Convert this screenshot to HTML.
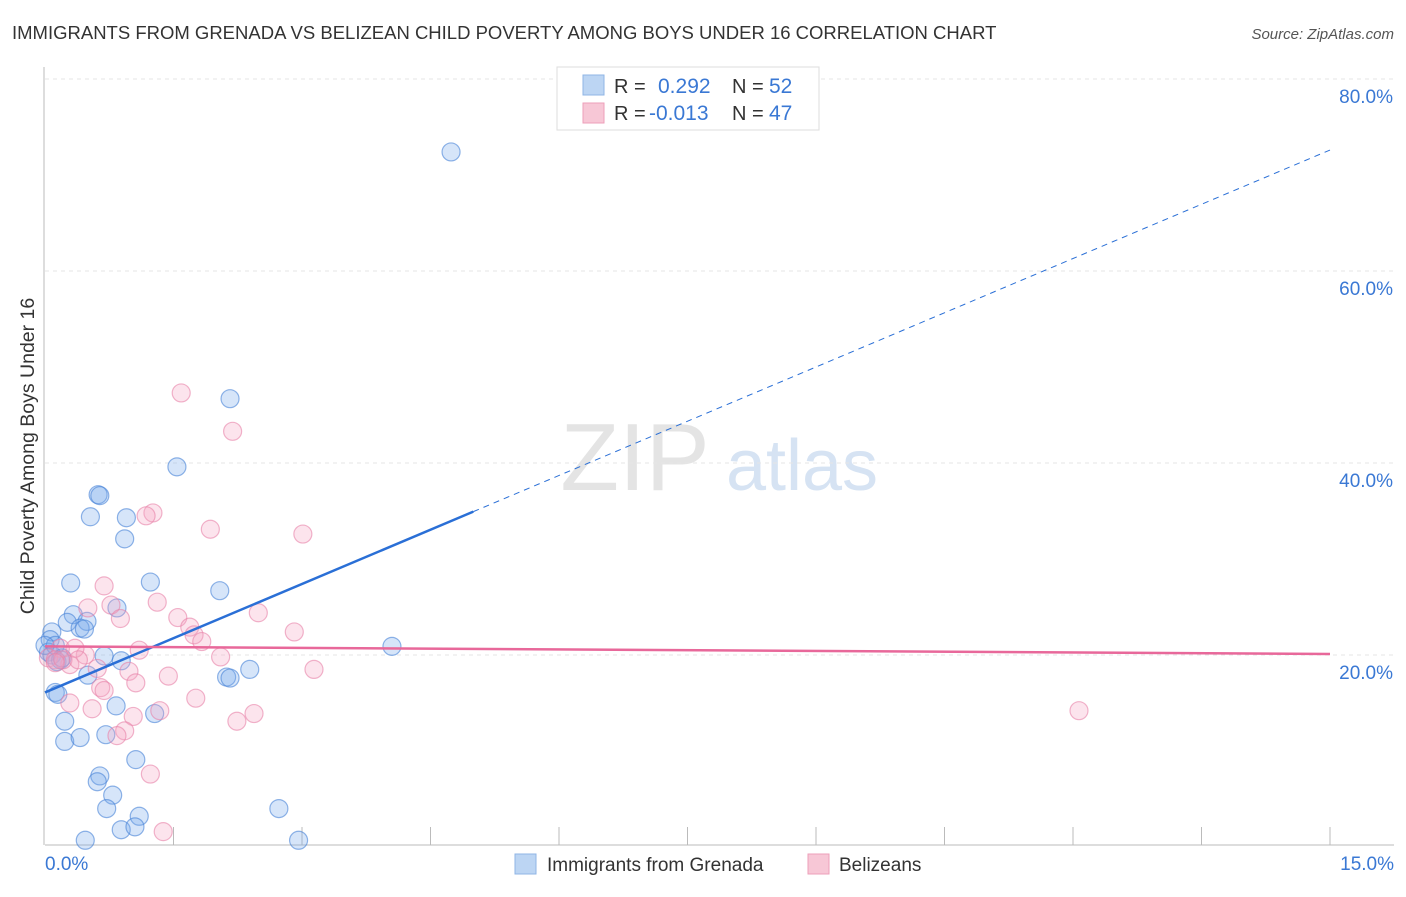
<!DOCTYPE html>
<html><head><meta charset="utf-8"><style>
body{margin:0;background:#fff;font-family:"Liberation Sans",sans-serif;}
svg text{font-family:"Liberation Sans",sans-serif;}
</style></head><body>
<svg id="chart" width="1406" height="892" xmlns="http://www.w3.org/2000/svg">
<text x="12" y="39" font-size="18.5" fill="#333">IMMIGRANTS FROM GRENADA VS BELIZEAN CHILD POVERTY AMONG BOYS UNDER 16 CORRELATION CHART</text>
<text x="1394" y="39" font-size="15" fill="#555" font-style="italic" text-anchor="end">Source: ZipAtlas.com</text>
<text transform="translate(34,456) rotate(-90)" font-size="19.5" fill="#333" text-anchor="middle">Child Poverty Among Boys Under 16</text>
<g>
<text x="635" y="490" font-size="96" fill="#e4e4e4" font-family="Liberation Serif" text-anchor="middle">ZIP</text>
<text x="802" y="490" font-size="72" fill="#d6e3f3" text-anchor="middle">atlas</text>
</g>
<g id="grid"></g><g id="axes"></g><g id="pts"></g><g id="lines"></g>
<g>
<rect x="557" y="67" width="262" height="63" fill="#fff" stroke="#ddd"/>
<rect x="583" y="75" width="21" height="20" fill="#bcd5f3" stroke="#8fb5e6"/>
<rect x="583" y="103" width="21" height="20" fill="#f7c7d6" stroke="#ee9fb9"/>
<text x="614" y="93" font-size="20" fill="#333">R =</text><text x="658" y="93" font-size="21" fill="#3a78d4">0.292</text>
<text x="732" y="93" font-size="20" fill="#333">N =</text><text x="769" y="93" font-size="21" fill="#3a78d4">52</text>
<text x="614" y="120" font-size="20" fill="#333">R =</text><text x="649" y="120" font-size="21" fill="#3a78d4">-0.013</text>
<text x="732" y="120" font-size="20" fill="#333">N =</text><text x="769" y="120" font-size="21" fill="#3a78d4">47</text>
</g>
<g>
<rect x="515" y="854" width="21" height="20" fill="#bcd5f3" stroke="#8fb5e6"/>
<text x="547" y="871" font-size="19" fill="#333">Immigrants from Grenada</text>
<rect x="808" y="854" width="21" height="20" fill="#f7c7d6" stroke="#ee9fb9"/>
<text x="839" y="871" font-size="19" fill="#333">Belizeans</text>
</g>
</svg>
<script>
const xTicks=[0,1.5,3,4.5,6,7.5,9,10.5,12,13.5,15];
const yTicks=[20,40,60,80];
const blueX=[4.74,2.16,1.54,0.62,0.64,0.53,0.95,0.93,0.30,1.23,2.04,0.84,0.33,0.26,0.49,0.41,0.46,0.08,0.06,0.04,0.08,0.14,0.69,0.89,0.18,4.05,2.39,2.12,2.16,0.50,0.12,0.15,0.83,1.28,0.23,0.23,0.41,0.71,1.06,0.64,0.61,0.79,0.72,1.10,2.73,0.89,1.05,0.47,2.96,0.12,0.0,0.20];
const blueY=[72.4,46.7,39.6,36.7,36.6,34.4,34.3,32.1,27.5,27.6,26.7,24.9,24.2,23.4,23.5,22.8,22.7,22.4,21.6,20.3,20.0,19.3,19.9,19.4,19.5,20.9,18.5,17.7,17.6,17.9,16.1,15.9,14.7,13.9,13.1,11.0,11.4,11.7,9.1,7.4,6.8,5.4,4.0,3.2,4.0,1.8,2.1,0.7,0.7,21.0,21.0,19.7];
const pinkX=[1.59,2.19,1.26,1.18,1.93,3.01,0.69,1.31,0.50,0.77,0.88,1.55,2.49,2.91,1.69,1.74,1.83,1.10,2.05,0.18,0.04,0.29,0.12,0.21,0.47,0.61,0.98,3.14,1.44,0.65,1.06,0.69,1.76,0.29,0.55,1.34,1.03,2.24,2.44,0.93,0.84,1.23,1.38,12.07,0.35,0.12,0.39];
const pinkY=[47.3,43.3,34.8,34.5,33.1,32.6,27.2,25.5,24.9,25.2,23.8,23.9,24.4,22.4,22.9,22.1,21.4,20.5,19.8,20.7,19.7,19.0,19.5,19.5,20.0,18.6,18.3,18.5,17.8,16.6,17.1,16.3,15.5,15.0,14.4,14.2,13.6,13.1,13.9,12.1,11.6,7.6,1.6,14.2,20.7,19.2,19.5];
const blueLine=[16.1,72.6]; const blueSolidEnd=5.0;
const pinkLine=[20.9,20.1];
const X=v=>45+v/15*1285, Y=v=>847-v*9.6;
const NS="http://www.w3.org/2000/svg";
function mk(parent,tag,attrs){const e=document.createElementNS(NS,tag);for(const k in attrs)e.setAttribute(k,attrs[k]);document.getElementById(parent).appendChild(e);return e;}
yTicks.forEach(t=>{
 const g=mk('grid','line',{x1:45,x2:1394,y1:Y(t),y2:Y(t),stroke:'#e6e6e6','stroke-dasharray':'4,4'});
 
 
 const l=mk('axes','text',{x:1393,y:Y(t)+24,'font-size':19,fill:'#3a78d4','text-anchor':'end'});
 l.textContent=t.toFixed(1)+'%';
 
 
});
const ax=mk('axes','line',{x1:45,x2:1394,y1:845,y2:845,stroke:'#bbb'});


const ay=mk('axes','line',{x1:44,x2:44,y1:67,y2:845,stroke:'#bbb'});


xTicks.forEach((t,i)=>{if(i==0)return;
 const tk=mk('axes','line',{x1:X(t),x2:X(t),y1:827,y2:845,stroke:'#bbb'});
 
 
});
[[0,45,'start'],[15,1394,'end']].forEach(([v,x,a])=>{
 const l=mk('axes','text',{x:x,y:870,'font-size':19,fill:'#3a78d4','text-anchor':a});
 l.textContent=v.toFixed(1)+'%';
 
 
});
function pts(xs,ys,fill,stroke,name){xs.forEach((x,i)=>{
 const c=mk('pts','circle',{cx:X(x),cy:Y(ys[i]),r:9,fill:fill,stroke:stroke,'stroke-width':1.2});
 
 
});}
pts(blueX,blueY,'rgba(120,170,235,0.3)','rgba(70,130,215,0.6)','grenada-point');
pts(pinkX,pinkY,'rgba(245,165,195,0.3)','rgba(232,130,168,0.6)','belizean-point');
const bAt=x=>blueLine[0]+(blueLine[1]-blueLine[0])*x/15;
const b1=mk('lines','line',{x1:X(0),y1:Y(bAt(0)),x2:X(blueSolidEnd),y2:Y(bAt(blueSolidEnd)),stroke:'#2a6fd6','stroke-width':2.5});


const b2=mk('lines','line',{x1:X(blueSolidEnd),y1:Y(bAt(blueSolidEnd)),x2:X(15),y2:Y(bAt(15)),stroke:'#2a6fd6','stroke-width':1,'stroke-dasharray':'6,5'});


const p1=mk('lines','line',{x1:X(0),y1:Y(pinkLine[0]),x2:X(15),y2:Y(pinkLine[1]),stroke:'#e8689a','stroke-width':2.5});


</script>
</body></html>
